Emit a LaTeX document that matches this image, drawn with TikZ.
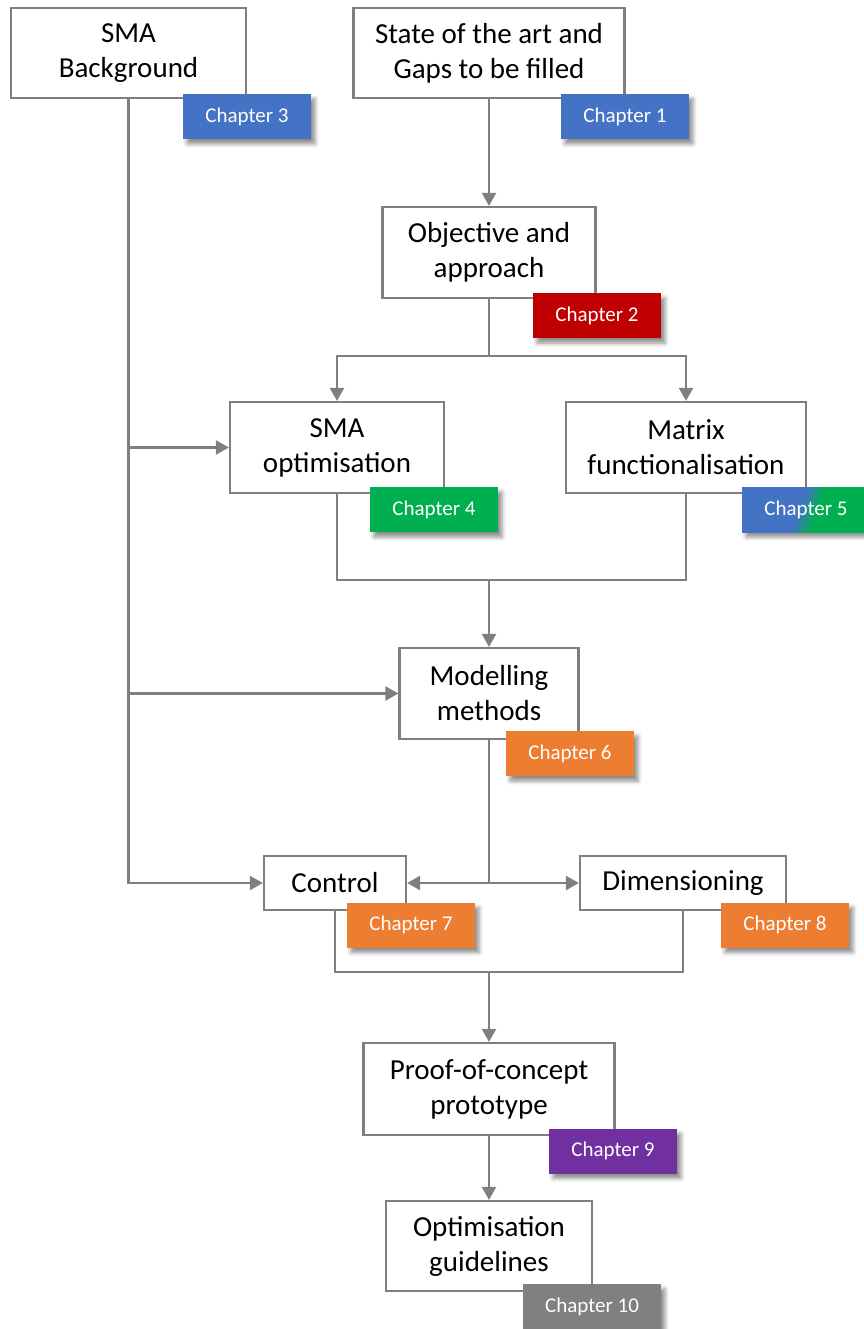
\documentclass[tikz,border=0pt]{standalone}
\usepackage{fontspec}
\setmainfont{Carlito}
\usetikzlibrary{arrows.meta,shadows.blur}
\definecolor{linegray}{RGB}{127,127,127}
\definecolor{tagblue}{RGB}{68,114,196}
\definecolor{tagred}{RGB}{192,0,0}
\definecolor{taggreen}{RGB}{0,176,80}
\definecolor{tagorange}{RGB}{237,125,49}
\definecolor{tagpurple}{RGB}{112,48,160}
\definecolor{taggray}{RGB}{128,128,128}
\pgfdeclarehorizontalshading{chfive}{100bp}{color(0bp)=(tagblue); color(47bp)=(tagblue); color(55bp)=(taggreen); color(100bp)=(taggreen)}

\begin{document}
\begin{tikzpicture}[x=1pt, y=-1pt, >={Triangle[length=13pt,width=14pt]},
    box/.style={draw=linegray, line width=2.2pt, fill=white, align=center, inner sep=0pt,
        font=\fontsize{29}{35}\selectfont},
    tag/.style={fill=#1, text=white, minimum width=128, minimum height=45, inner sep=0pt,
        font=\fontsize{21}{25}\selectfont,
        blur shadow={shadow xshift=4pt, shadow yshift=-5pt, shadow blur radius=4pt, shadow opacity=45}},
    link/.style={draw=linegray, line width=2.2pt}]
    \useasboundingbox (0,0) rectangle (863,1329);

    % Boxes
    \node[box, minimum width=235, minimum height=90] (bg) at (128.5,53) {SMA\\Background};
    \node[box, minimum width=271, minimum height=90] (soa) at (489,53) {State of the art and\\Gaps to be filled};
    \node[box, minimum width=213, minimum height=91] (obj) at (489,252.5) {Objective and\\approach};
    \node[box, minimum width=214, minimum height=91] (smaopt) at (337,447.5) {SMA\\optimisation};
    \node[box, minimum width=240, minimum height=91] (matrix) at (686,447.5) {Matrix\\functionalisation};
    \node[box, minimum width=179, minimum height=91] (model) at (489,693.5) {Modelling\\methods};
    \node[box, minimum width=142, minimum height=54] (control) at (335,883) {Control};
    \node[box, minimum width=206, minimum height=54] (dim) at (683,883) {Dimensioning};
    \node[box, minimum width=251, minimum height=92] (proof) at (489,1089) {Proof-of-concept\\prototype};
    \node[box, minimum width=206, minimum height=90] (optg) at (489,1246) {Optimisation\\guidelines};

    % Junctions
    \coordinate (split1) at (489,356);
    \coordinate (join1) at (489,580);
    \coordinate (split2) at (489,883);
    \coordinate (join2) at (489,972);

    % Main path
    \draw[link,->] (soa) -- (obj);
    \draw[link] (obj) -- (split1);
    \draw[link,->] (split1) -| (smaopt);
    \draw[link,->] (split1) -| (matrix);
    \draw[link] (smaopt) |- (join1) -| (matrix);
    \draw[link,->] (join1) -- (model);
    \draw[link] (model) -- (split2);
    \draw[link,->] (split2) -- (control);
    \draw[link,->] (split2) -- (dim);
    \draw[link] (control) |- (join2) -| (dim);
    \draw[link,->] (join2) -- (proof);
    \draw[link,->] (proof) -- (optg);

    % Background feeds
    \draw[link,->] (bg) |- (smaopt);
    \draw[link,->] (bg) |- (model);
    \draw[link,->] (bg) |- (control);

    % Chapter tags
    \node[tag=tagblue] (ch3) at (247,116.5) {Chapter 3};
    \node[tag=tagblue] (ch1) at (625,116.5) {Chapter 1};
    \node[tag=tagred] (ch2) at (597,315.5) {Chapter 2};
    \node[tag=taggreen] (ch4) at (434,509.5) {Chapter 4};
    \node[tag=tagblue, shade, shading=chfive, shading angle=-20] (ch5) at (806,509.5) {Chapter 5};
    \node[tag=tagorange] (ch6) at (570,753.5) {Chapter 6};
    \node[tag=tagorange] (ch7) at (411,925) {Chapter 7};
    \node[tag=tagorange] (ch8) at (785,925) {Chapter 8};
    \node[tag=tagpurple] (ch9) at (613,1151) {Chapter 9};
    \node[tag=taggray, minimum width=138] (ch10) at (592,1306.5) {Chapter 10};
\end{tikzpicture}
\end{document}
